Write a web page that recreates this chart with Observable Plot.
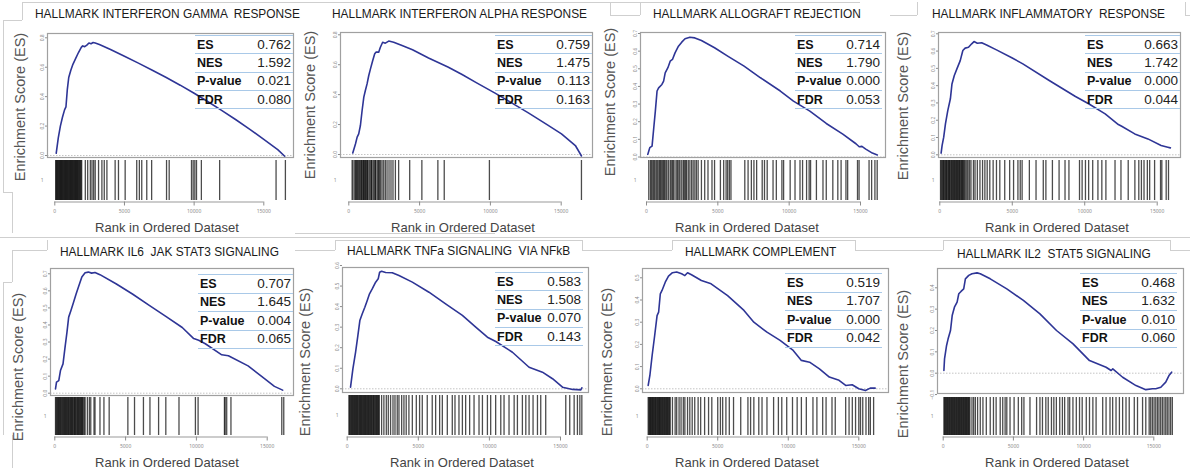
<!DOCTYPE html>
<html><head><meta charset="utf-8">
<script src="https://cdn.jsdelivr.net/npm/d3@7"></script>
<script src="https://cdn.jsdelivr.net/npm/@observablehq/plot@0.6"></script>
<style>
body{margin:0;background:#fff;}
#root{position:relative;width:1190px;height:470px;overflow:hidden;font-family:"Liberation Sans",Arial,sans-serif;background:#fff;}
#root svg{position:absolute;overflow:visible;background:transparent;}
.t{position:absolute;white-space:pre;line-height:1;}
.title{font-size:11.9px;color:#1a1a1a;transform:translateY(-50%);}
.ylab{font-size:14.5px;color:#555;transform:translate(-50%,-50%) rotate(-90deg);}
.xlab{font-size:13px;color:#444;transform:translate(-50%,-50%);}
.lab{font-size:12.5px;font-weight:bold;color:#111;transform:translateY(-50%);}
.val{font-size:13.5px;color:#222;transform:translate(-100%,-50%);}
.tline{position:absolute;height:0;border-top:1px solid #a9c9e8;}
.deco{position:absolute;background:#cfcfcf;}
</style></head><body><div id="root"></div>
<script>
// ---------- data ----------
const titles = [
  "HALLMARK INTERFERON GAMMA  RESPONSE",
  "HALLMARK INTERFERON ALPHA RESPONSE",
  "HALLMARK ALLOGRAFT REJECTION",
  "HALLMARK INFLAMMATORY  RESPONSE",
  "HALLMARK IL6  JAK STAT3 SIGNALING",
  "HALLMARK TNFa SIGNALING  VIA NFkB",
  "HALLMARK COMPLEMENT",
  "HALLMARK IL2  STAT5 SIGNALING"
];
const statLabels = ["ES", "NES", "P-value", "FDR"];
const esVals  = ["0.762", "0.759", "0.714", "0.663", "0.707", "0.583", "0.519", "0.468"];
const nesVals = ["1.592", "1.475", "1.790", "1.742", "1.645", "1.508", "1.707", "1.632"];
const pVals   = ["0.021", "0.113", "0.000", "0.000", "0.004", "0.070", "0.000", "0.010"];
const fdrVals = ["0.080", "0.163", "0.053", "0.044", "0.065", "0.143", "0.042", "0.060"];
const xTicks = [0, 5000, 10000, 15000];
const yTicks = [
  [0, 0.2, 0.4, 0.6, 0.8],
  [0, 0.2, 0.4, 0.6, 0.8],
  [0, 0.1, 0.2, 0.3, 0.4, 0.5, 0.6, 0.7],
  [0, 0.1, 0.2, 0.3, 0.4, 0.5, 0.6, 0.7],
  [0, 0.1, 0.2, 0.3, 0.4, 0.5, 0.6, 0.7],
  [0, 0.1, 0.2, 0.3, 0.4, 0.5, 0.6],
  [0, 0.1, 0.2, 0.3, 0.4, 0.5],
  [-0.1, 0, 0.1, 0.2, 0.3, 0.4]
];
const rugTick = [1];

// running enrichment score curves: [rank, ES]
const es1 = [[100,0.015],[250,0.12],[400,0.2],[550,0.26],[700,0.31],[800,0.33],[900,0.45],[1000,0.53],[1150,0.58],[1300,0.62],[1500,0.66],[1700,0.70],[1900,0.735],[2000,0.745],[2150,0.74],[2300,0.75],[2450,0.765],[2600,0.76],[2750,0.768],[2900,0.765],[3200,0.755],[3600,0.738],[4000,0.72],[5000,0.675],[6000,0.628],[7000,0.58],[8000,0.53],[9000,0.478],[10000,0.423],[11000,0.365],[12000,0.305],[13000,0.243],[14000,0.178],[15000,0.11],[16000,0.04],[16500,-0.005]];
const es2 = [[280,0.01],[470,0.07],[590,0.116],[700,0.138],[820,0.194],[940,0.294],[1060,0.383],[1170,0.428],[1290,0.472],[1410,0.528],[1530,0.572],[1690,0.628],[1830,0.673],[1920,0.684],[2110,0.684],[2230,0.717],[2390,0.75],[2580,0.744],[2820,0.758],[3170,0.75],[3760,0.728],[4500,0.70],[5630,0.645],[7000,0.585],[8000,0.535],[9000,0.48],[10330,0.41],[11500,0.345],[12680,0.278],[14000,0.2],[15020,0.138],[16000,0.06],[16310,0.01],[16430,-0.01]];
const es3 = [[90,0.015],[230,0.053],[390,0.062],[510,0.166],[620,0.26],[740,0.374],[850,0.392],[1080,0.411],[1200,0.43],[1310,0.477],[1500,0.506],[1660,0.543],[1820,0.553],[2000,0.59],[2240,0.628],[2470,0.651],[2700,0.67],[3040,0.679],[3390,0.675],[3850,0.66],[4770,0.619],[5690,0.572],[6840,0.515],[7990,0.449],[9380,0.374],[10300,0.317],[11450,0.26],[12600,0.19],[13760,0.13],[14680,0.075],[14910,0.058],[15100,0.06],[15370,0.045],[15830,0.022],[16180,0.012]];
const es4 = [[90,0.01],[160,0.054],[270,0.102],[390,0.179],[550,0.256],[730,0.324],[840,0.41],[1000,0.459],[1180,0.497],[1410,0.545],[1590,0.603],[1750,0.617],[1980,0.622],[2200,0.642],[2360,0.655],[2590,0.645],[2890,0.648],[3230,0.635],[3910,0.607],[5000,0.56],[5730,0.526],[7550,0.43],[9360,0.337],[10270,0.295],[11410,0.237],[12320,0.175],[12550,0.165],[13450,0.121],[14360,0.092],[15270,0.054],[15730,0.044],[15910,0.04]];
const es5 = [[50,0.025],[120,0.065],[280,0.074],[400,0.133],[580,0.172],[740,0.28],[860,0.358],[980,0.446],[1140,0.485],[1330,0.534],[1510,0.583],[1670,0.622],[1910,0.681],[2140,0.706],[2370,0.71],[2600,0.704],[2840,0.708],[3190,0.695],[4350,0.64],[5510,0.58],[6670,0.515],[7840,0.45],[9000,0.385],[9810,0.32],[10160,0.31],[10630,0.29],[11790,0.225],[12260,0.22],[13650,0.16],[14810,0.085],[15510,0.04],[16090,0.018]];
const es6 = [[235,0.008],[400,0.097],[590,0.178],[750,0.259],[890,0.332],[1060,0.365],[1240,0.397],[1410,0.43],[1570,0.462],[1760,0.486],[2000,0.519],[2180,0.535],[2280,0.567],[2420,0.572],[2700,0.566],[3170,0.565],[3640,0.551],[4580,0.519],[5750,0.47],[6920,0.413],[8100,0.357],[9040,0.3],[9860,0.251],[10450,0.23],[11620,0.178],[12790,0.105],[13730,0.081],[14440,0.049],[15140,0.008],[15850,-0.003],[16430,-0.005],[16500,0.005]];
const es7 = [[70,0.015],[190,0.06],[350,0.15],[530,0.24],[700,0.33],[810,0.345],[930,0.428],[1050,0.443],[1280,0.48],[1510,0.508],[1790,0.523],[2090,0.526],[2440,0.518],[2670,0.51],[2860,0.523],[3140,0.514],[3840,0.488],[4530,0.473],[5700,0.42],[6860,0.353],[7560,0.3],[8490,0.255],[9420,0.218],[10350,0.173],[10930,0.128],[11510,0.12],[12210,0.09],[12910,0.053],[13600,0.038],[14070,0.015],[14530,0.018],[15000,0.0],[15470,-0.008],[15810,0.003],[16160,0.003]];
const es8 = [[50,0.0125],[95,0.067],[240,0.13],[350,0.161],[520,0.2],[640,0.27],[800,0.309],[990,0.333],[1110,0.372],[1270,0.383],[1460,0.395],[1580,0.442],[1820,0.458],[2050,0.466],[2410,0.47],[2640,0.466],[3350,0.442],[4530,0.395],[5710,0.341],[6890,0.278],[8070,0.2],[9250,0.1375],[10420,0.059],[11600,0.028],[11960,0.0125],[12080,0.02],[12780,-0.019],[13730,-0.058],[14430,-0.077],[14910,-0.073],[15140,-0.073],[15500,-0.066],[15850,-0.042],[16080,-0.011],[16270,0.005]];

// gene-set hit positions (rank in ordered dataset)
const hits1 = [60,110,150,200,240,290,330,380,420,470,510,560,600,650,690,740,780,830,870,920,960,1010,1050,1100,1140,1190,1230,1280,1320,1370,1410,1460,1500,1550,1590,1640,1680,1730,1780,1830,1880,1930,2190,2360,2550,2670,2790,2900,3140,3380,3550,3740,4330,4570,5050,5880,6070,6240,6600,6950,8020,8210,9810,9930,10050,10170,10520,11830,15880,16550];
const hits2 = [235,300,420,480,540,600,660,720,775,845,900,940,1010,1050,1100,1170,1210,1270,1320,1360,1455,1550,1600,1640,1740,1830,1880,1925,2040,2100,2160,2250,2350,2465,2580,2700,2840,2980,3120,3290,3520,4300,5160,6290,6740,9930,16430];
const hits3 = [160,280,350,440,510,580,670,740,810,900,970,1040,1130,1200,1270,1360,1430,1540,1660,1730,1820,1890,2000,2120,2190,2280,2350,2470,2580,2650,2740,2810,2930,3040,3160,3270,3390,3500,3620,3850,4080,4310,4590,4770,5180,5410,5580,5690,5810,5920,6890,7120,7350,7530,7720,8110,8270,8460,8870,9100,9490,9610,10070,10410,10760,10940,11220,11400,11500,11910,12370,12600,13060,13410,13640,13980,14100,14790,14900,15600,15780,16010,16170];
const hits4 = [50,100,160,210,260,300,360,410,460,500,560,610,660,700,760,810,860,910,960,1010,1060,1110,1160,1210,1260,1310,1360,1400,1460,1510,1560,1610,1660,1720,1800,1880,1950,2050,2150,2320,2430,2590,2770,2950,3110,3270,3450,3680,3910,4140,4480,4820,5090,5390,5550,5680,6180,6640,7140,7320,7770,8230,8640,8910,9640,9820,10050,10270,10550,10910,11180,11460,12090,12500,13000,13460,13730,13910,14090,14320,14480,14820,15230,15320,15620,15780];
const hits5 = [50,100,150,200,260,300,350,400,450,500,560,600,660,700,760,800,850,900,960,1000,1060,1100,1160,1200,1250,1300,1360,1400,1450,1500,1560,1600,1660,1700,1760,1800,1860,1900,1960,2000,2080,2140,2300,2440,2540,2770,2840,3190,3470,3840,5160,5630,6260,6720,7330,7840,8770,9930,10120,11980,12030,12140,12440,16030,16170];
const hits6 = [120,170,220,280,320,380,420,470,520,570,620,660,720,760,820,860,920,960,1010,1060,1110,1160,1210,1260,1300,1360,1410,1460,1500,1560,1610,1660,1700,1760,1810,1860,1900,1960,2010,2060,2110,2160,2200,2260,2420,2580,2750,2890,3050,3220,3360,3520,3640,3830,3990,4150,4340,4580,4860,5090,5280,5630,5980,6220,6500,6690,7040,7390,7580,7860,8100,8330,8610,8920,9270,9510,9860,10090,10440,10800,11030,11380,11740,11970,12320,12560,12790,13070,13380,13610,13960,15370,15650,15960,16190,16360,16500];
const hits7 = [70,120,170,220,260,310,360,400,450,500,550,590,640,690,740,790,840,880,930,980,1030,1080,1130,1180,1230,1280,1330,1380,1430,1480,1530,1580,1630,1790,1980,2090,2260,2400,2560,2670,2860,3020,3190,3370,3610,3790,4070,4350,4580,5000,5190,5350,5580,5820,6120,6630,7140,7330,7560,7910,8140,8490,8960,9300,9540,9890,10300,10630,10930,11280,11750,12030,12440,12680,13100,13330,14070,14310,14540,14770,15000,15120,15280,15510,15700,15820,16050];
const hits8 = [50,100,150,200,250,300,350,400,450,500,550,600,650,700,750,800,850,900,950,1000,1050,1100,1150,1200,1250,1300,1350,1400,1450,1500,1550,1600,1650,1700,1750,1800,1850,1900,2050,2170,2290,2450,2640,2830,3070,3350,3580,3770,4060,4240,4410,4530,4760,5050,5350,5590,5750,6180,6650,6890,7070,7310,7480,7710,7880,8060,8300,8490,8650,8890,9010,9240,9480,9710,9900,10190,10420,10660,10890,11360,11600,11880,12070,12310,12550,12780,13020,13250,13610,13840,14200,14430,14670,14780,14900,15020,15140,15260,15370,15490,15610,15730,15850,15960,16080,16200,16320];

const curves = [es1, es2, es3, es4, es5, es6, es7, es8];
const hitSets = [hits1, hits2, hits3, hits4, hits5, hits6, hits7, hits8];

// ---------- layout (page pixels) ----------
const layout = [
 {L:47,T:33,R:293,B:157,x0:54.3,x15:263.3,y0:155,yTpx:37.3,rugT:160,rugB:200,titleX:35,titleY:15,ylabX:20,ylabY:107,xlabX:167,xlabY:227,tabL:195,tabR:293,tabT:35,rowH:18.3},
 {L:340,T:32,R:592,B:157,x0:348.3,x15:560.7,y0:154,yTpx:34.3,rugT:160,rugB:200,titleX:332,titleY:15,ylabX:310,ylabY:105,xlabX:463,xlabY:227,tabL:495,tabR:592,tabT:35,rowH:18.3},
 {L:640,T:32,R:885,B:157,x0:646,x15:860,y0:156.5,yTpx:33,rugT:160,rugB:200,titleX:653,titleY:15,ylabX:610,ylabY:102,xlabX:747,xlabY:227,tabL:795,tabR:882,tabT:35,rowH:18.3},
 {L:938,T:32,R:1180,B:157,x0:939.3,x15:1156.7,y0:154.3,yTpx:33.3,rugT:160,rugB:200,titleX:932,titleY:15,ylabX:903,ylabY:106,xlabX:1057,xlabY:227,tabL:1085,tabR:1180,tabT:35,rowH:18.3},
 {L:50,T:268,R:293,B:395,x0:54.3,x15:266.7,y0:392.7,yTpx:273.3,rugT:397,rugB:435,titleX:60,titleY:253,ylabX:18,ylabY:367,xlabX:167,xlabY:462,tabL:198,tabR:293,tabT:274,rowH:18.5},
 {L:342,T:267,R:588,B:392,x0:346.7,x15:560,y0:388.3,yTpx:265,rugT:395,rugB:435,titleX:347,titleY:252,ylabX:305,ylabY:362,xlabX:462,xlabY:462,tabL:495,tabR:583,tabT:272,rowH:18.3},
 {L:642,T:268,R:888,B:392,x0:646.7,x15:858.3,y0:388.3,yTpx:277.3,rugT:397,rugB:435,titleX:685,titleY:253,ylabX:607,ylabY:362,xlabX:747,xlabY:462,tabL:785,tabR:882,tabT:273,rowH:18.5},
 {L:937,T:268,R:1183,B:393,x0:942.7,x15:1153.3,y0:372.7,yTpx:287.3,rugT:397,rugB:435,titleX:957,titleY:255,ylabX:903,ylabY:364,xlabX:1057,xlabY:462,tabL:1080,tabR:1177,tabT:273,rowH:18.5}
];
// faint screenshot border segments: [x1, y1, x2, y2]
const decoSegs = [
 [22,2,600,2],[22,2,22,20],[3,20,22,20],[3,20,3,192],[3,192,12,192],[12,192,12,233],[295,233,495,233],
 [610,2,610,15],[610,15,640,15],[640,2,640,15],[1185,2,1185,15],[1185,15,1190,15],
 [890,15,917,15],[917,2,917,15],[600,2,860,2],
 [0,237,1190,237],
 [47,240,47,250],[12,250,47,250],[12,250,12,282],[3,282,12,282],[3,282,3,435],[12,435,12,468],
 [295,250,335,250],[335,240,335,250],[335,240,582,240],[582,240,582,250],[582,250,595,250],
 [595,250,672,250],[672,240,672,250],[672,240,855,240],[855,240,855,250],[855,250,895,250],
 [890,250,943,250],[943,240,943,250],[943,240,1170,240],[1170,240,1170,250],[1170,250,1190,250]
];

const root = document.getElementById("root");
function place(el, x, y) { el.style.left = x + "px"; el.style.top = y + "px"; root.appendChild(el); }
function text(cls, s, x, y) { const d = document.createElement("div"); d.className = "t " + cls; d.textContent = s; place(d, x, y); }
const fmt1 = d3.format(".1f");
const fmtInt = d3.format("d");

decoSegs.forEach(([x1, y1, x2, y2]) => {
  const d = document.createElement("div");
  d.className = "deco";
  d.style.width = Math.max(1, x2 - x1) + "px";
  d.style.height = Math.max(1, y2 - y1) + "px";
  place(d, x1, y1);
});

layout.forEach((p, i) => {
  const curve = curves[i], hits = hitSets[i], yt = yTicks[i];
  const kx = (p.x15 - p.x0) / xTicks[xTicks.length - 1];
  const xd = [(p.L - p.x0) / kx, (p.R - p.x0) / kx];
  const ky = (p.y0 - p.yTpx) / yt[yt.length - 1];
  const yd = [-(p.B - p.y0) / ky, (p.y0 - p.T) / ky];

  // enrichment score plot
  const mL = 14, mR = 2, mT = 2, mB = 2;
  const es = Plot.plot({
    width: p.R - p.L + mL + mR, height: p.B - p.T + mT + mB,
    marginLeft: mL, marginRight: mR, marginTop: mT, marginBottom: mB,
    x: {domain: xd, axis: null},
    y: {domain: yd, axis: null},
    style: {background: "transparent", overflow: "visible"},
    marks: [
      Plot.ruleY([0], {stroke: "#c4c4c4", strokeDasharray: "1.5,1.5"}),
      Plot.line(curve, {x: d => d[0], y: d => d[1], stroke: "#2e3596", strokeWidth: 1.6, curve: "linear"}),
      Plot.axisY(yt, {tickSize: 2, tickPadding: 2, tickRotate: -90, fontSize: 5, tickFormat: fmt1, color: "#8c8c8c", label: null}),
      Plot.frame({stroke: "#a0a0a0", strokeWidth: 1.2})
    ]
  });
  place(es, p.L - mL, p.T - mT);

  // hit rug plot
  const rb = 16;
  const rug = Plot.plot({
    width: p.R - p.L + mL + mR, height: p.rugB - p.rugT + rb,
    marginLeft: mL, marginRight: mR, marginTop: 0, marginBottom: rb,
    x: {domain: xd},
    y: {domain: [0, 2]},
    style: {background: "transparent", overflow: "visible"},
    marks: [
      Plot.ruleX(hits, {x: d => d, stroke: "#000", strokeOpacity: 0.7, strokeWidth: 1.3}),
      Plot.ruleY([0], {x1: xTicks[0], x2: xTicks[xTicks.length - 1], stroke: "#999", dy: 1.5}),
      Plot.axisX(xTicks, {tickSize: 4, tickPadding: 3, fontSize: 5, tickFormat: fmtInt, color: "#8c8c8c", label: null, dy: 1.5}),
      Plot.axisY(rugTick, {tickSize: 0, tickPadding: 4, fontSize: 5, color: "#8c8c8c", label: null})
    ]
  });
  place(rug, p.L - mL, p.rugT);

  // texts
  text("title", titles[i], p.titleX, p.titleY);
  text("ylab", "Enrichment Score (ES)", p.ylabX, p.ylabY);
  text("xlab", "Rank in Ordered Dataset", p.xlabX, p.xlabY);

  // stats table
  const vals = [esVals[i], nesVals[i], pVals[i], fdrVals[i]];
  for (let r = 0; r <= statLabels.length; r++) {
    const ln = document.createElement("div");
    ln.className = "tline";
    ln.style.width = (p.tabR - p.tabL) + "px";
    place(ln, p.tabL, p.tabT + r * p.rowH);
  }
  statLabels.forEach((lab, r) => {
    const cy = p.tabT + (r + 0.5) * p.rowH + 0.5;
    text("lab", lab, p.tabL + 2, cy);
    text("val", vals[r], p.tabR - 2, cy);
  });
});
</script>
</body></html>
